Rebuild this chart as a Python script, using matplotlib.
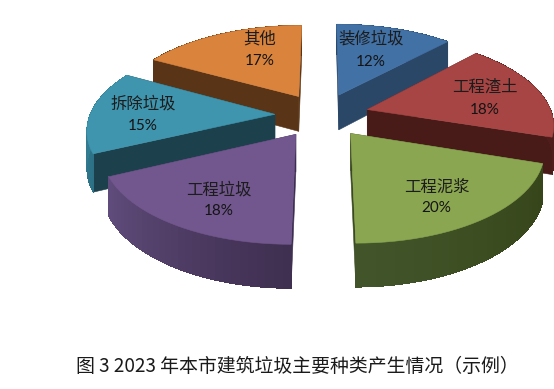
import numpy as np
from matplotlib import pyplot as plt
from matplotlib import colors as mcolors
from matplotlib.patches import Polygon

categories = ['装修垃圾', '工程渣土', '工程泥浆', '工程垃圾', '拆除垃圾', '其他']
shares = [12, 18, 20, 18, 15, 17]
caption = '图 3 2023 年本市建筑垃圾主要种类产生情况（示例）'

# 色 (top, cut wall, arc wall at start, arc wall at end)
top_colors = ['#4271A6', '#A64543', '#8AA650', '#71578E', '#3F95AE', '#D9833C']
cut_colors = ['#2B4768', '#481B19', '#3B4A20', '#3E2D52', '#1C414C', '#5A3416']
arc_start = ['#2B4768', '#4F1D1B', '#364419', '#3F2F50', '#2C7186', '#5A3416']
arc_end = ['#2B4768', '#4F1D1B', '#42552A', '#604C7C', '#3A8AA2', '#5A3416']

label_xy = [(371, 39), (485, 87), (437, 187), (219, 190), (143, 104), (260, 39)]
pct_xy = [(371, 62), (485, 110), (436, 208), (219, 211), (143, 126), (260, 61)]

# 投影パラメータ
cx, cy = 322, 115
rx, ry = 185, 87
persp = 0.15
explode = 0.255
height = 36
draw_order = [0, 5, 1, 4, 2, 3]


def project(X, Y):
    w = 1 + persp * Y
    return cx + rx * X / w, cy - ry * Y / w, height / w


fig = plt.figure(figsize=(5.54, 3.89), dpi=100)
ax = fig.add_axes([0, 0, 1, 1])
ax.set_xlim(0, 554)
ax.set_ylim(389, 0)
ax.axis('off')

edges = np.cumsum([0] + shares) / sum(shares) * 2 * np.pi

for i in draw_order:
    t0, t1 = edges[i], edges[i + 1]
    mid = (t0 + t1) / 2
    ex, ey = explode * np.sin(mid), explode * np.cos(mid)
    theta = np.linspace(t0, t1, 30)
    X = ex + np.sin(theta)
    Y = ey + np.cos(theta)
    x, y, h = project(X, Y)
    tx, ty, th = project(ex, ey)

    # 切り口の壁
    for j in [0, -1]:
        ax.add_patch(Polygon([(tx, ty), (x[j], y[j]), (x[j], y[j] + h[j]), (tx, ty + th)],
                             fc=cut_colors[i], ec=cut_colors[i], lw=0.4))

    # 外周の壁 (グラデーション)
    c0 = np.array(mcolors.to_rgb(arc_start[i]))
    c1 = np.array(mcolors.to_rgb(arc_end[i]))
    outline = list(zip(x, y)) + list(zip(x[::-1], (y + h)[::-1]))
    ax.add_patch(Polygon(outline, fc=(c0 + c1) / 2, ec='none'))
    for k in range(len(theta) - 1):
        c = c0 + (c1 - c0) * k / (len(theta) - 2)
        ax.add_patch(Polygon([(x[k], y[k]), (x[k + 1], y[k + 1]),
                              (x[k + 1], y[k + 1] + h[k + 1]), (x[k], y[k] + h[k])],
                             fc=c, ec='none', antialiased=False))

    # 上面
    top = [(tx, ty)] + list(zip(x, y))
    ax.add_patch(Polygon(top, fc=top_colors[i], ec=top_colors[i], lw=0.4))

# ラベル
for i, name in enumerate(categories):
    ax.text(*label_xy[i], name, ha='center', va='center', fontsize=11.8,
            family=['Noto Sans CJK SC', 'DejaVu Sans'], color='#1c1c1c', fontweight='light')
    ax.text(*pct_xy[i], f'{shares[i]}%', ha='center', va='center', fontsize=11,
            family='Lato', color='#141414')

ax.text(297, 367, caption, ha='center', va='center', fontsize=13.6,
        family=['Noto Sans CJK SC', 'DejaVu Sans'], color='#1a1a1a')

fig.savefig('out.png', dpi=100)
